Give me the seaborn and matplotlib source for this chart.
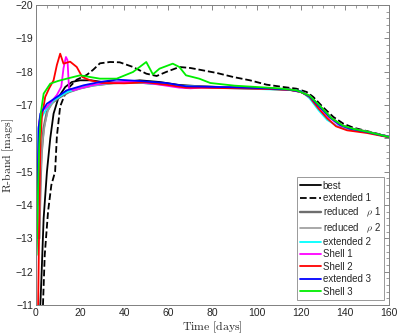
import matplotlib
matplotlib.use("Agg")
import pandas as pd
import seaborn as sns
from matplotlib import pyplot as plt
from matplotlib.ticker import MultipleLocator

labels = ["best", "extended 1", "reduced   $\\rho$ 1", "reduced   $\\rho$ 2",
          "extended 2", "Shell 1", "Shell 2", "extended 3", "Shell 3"]

best_t = [2, 2.5, 3.5, 5, 6.5, 8, 10.3, 13.3, 16.3, 20, 25, 30, 40, 47, 56, 65, 75,
          90, 105, 115, 120, 124, 128.5, 133, 137.8, 142.3, 150, 160]
best_m = [-11, -11.8, -13.6, -15.0, -16.0, -16.74, -17.24, -17.54, -17.69, -17.74, -17.74,
          -17.69, -17.69, -17.74, -17.69, -17.6, -17.56, -17.52, -17.49, -17.46, -17.39,
          -17.26, -16.96, -16.66, -16.41, -16.3, -16.2, -16.04]

ext1_t = [3.2, 4, 5.5, 7, 8.7, 9.5, 11, 14, 18.5, 23, 26, 29, 33.6, 38, 44, 50, 54.7, 59,
          65, 70, 74, 82, 89.4, 97, 104.5, 112, 118, 122.7, 125.7, 130, 134.8, 139.3,
          143.8, 149.8, 160]
ext1_m = [-11, -12.5, -13.8, -14.6, -15.0, -16.06, -16.96, -17.46, -17.76, -17.9, -18.06,
          -18.25, -18.29, -18.28, -18.14, -17.94, -17.87, -17.99, -18.14, -18.11, -18.06,
          -17.96, -17.84, -17.74, -17.61, -17.54, -17.49, -17.39, -17.24, -16.94, -16.64,
          -16.44, -16.32, -16.22, -16.05]

red1_t = [1.5, 2, 2.5, 3.5, 5, 7, 11, 15, 20, 26, 35, 45, 55, 65, 75, 90, 105, 115, 120,
          124, 128.5, 133, 137.8, 142.3, 150, 160]
red1_m = [-13.0, -14.5, -15.5, -16.3, -16.8, -17.05, -17.24, -17.39, -17.5, -17.59, -17.66,
          -17.68, -17.64, -17.57, -17.55, -17.52, -17.49, -17.46, -17.4, -17.27, -16.97,
          -16.66, -16.41, -16.3, -16.2, -16.04]

red2_t = [1.7, 2.2, 3, 4, 5.5, 8, 11, 15, 20, 26, 35, 45, 55, 65, 75, 90, 105, 115, 120,
          124, 128.5, 133, 137.8, 142.3, 150, 160]
red2_m = [-13.5, -15.0, -15.9, -16.4, -16.85, -17.1, -17.27, -17.4, -17.5, -17.58, -17.65,
          -17.67, -17.63, -17.57, -17.55, -17.52, -17.49, -17.46, -17.4, -17.27, -16.97,
          -16.66, -16.41, -16.3, -16.2, -16.04]

ext2_t = [0.6, 1.2, 2, 3.5, 5.5, 8, 14, 23, 36, 45, 52, 60, 68, 75, 90, 105, 115, 120, 124,
          128, 132, 137, 142, 150, 160]
ext2_m = [-13.0, -16.34, -16.55, -16.74, -16.95, -17.14, -17.39, -17.56, -17.69, -17.68,
          -17.64, -17.6, -17.56, -17.54, -17.5, -17.47, -17.45, -17.42, -17.2, -16.85,
          -16.55, -16.35, -16.27, -16.18, -16.04]

sh1_t = [0.8, 1.5, 2.5, 5, 7, 9.5, 11.5, 12.5, 13.6, 14.3, 15, 17, 20, 26, 35, 45, 55, 65,
         70, 75, 90, 105, 115, 120, 124, 128.5, 133, 137.8, 142.3, 150, 160]
sh1_m = [-14.0, -16.5, -16.8, -16.94, -17.1, -17.3, -17.55, -18.1, -18.44, -18.35, -17.5,
         -17.44, -17.5, -17.6, -17.68, -17.7, -17.62, -17.52, -17.5, -17.52, -17.52, -17.49,
         -17.46, -17.39, -17.26, -16.94, -16.62, -16.38, -16.28, -16.19, -16.04]

sh2_t = [1, 1.5, 2, 2.7, 4.2, 6, 8, 9.5, 11, 12.5, 14, 15.5, 18.5, 21, 24.6, 30, 40, 50, 60,
         68, 75, 90, 105, 115, 120, 124, 128, 132, 136, 141, 150, 160]
sh2_m = [-11, -13.5, -15.8, -16.64, -17.24, -17.5, -17.74, -18.2, -18.54, -18.24, -18.27,
         -18.3, -18.14, -17.84, -17.74, -17.66, -17.65, -17.68, -17.6, -17.52, -17.52, -17.5,
         -17.48, -17.45, -17.4, -17.24, -16.9, -16.6, -16.36, -16.24, -16.16, -16.03]

ext3_t = [0, 0.5, 1.2, 2, 5, 9.5, 14, 21.6, 29, 36.6, 47, 59, 68, 75, 90, 105, 115, 120,
          124, 128.5, 133, 137.8, 142.3, 150, 160]
ext3_m = [-12.2, -13.5, -16.3, -16.74, -17.04, -17.24, -17.44, -17.59, -17.69, -17.76,
          -17.72, -17.66, -17.56, -17.55, -17.53, -17.5, -17.46, -17.4, -17.26, -16.95,
          -16.64, -16.4, -16.29, -16.19, -16.04]

sh3_t = [0.3, 0.8, 1.5, 2.3, 3.5, 6.5, 10, 14, 20, 29, 36.6, 44, 48, 50, 53, 56, 62, 65, 68,
         74, 79, 90, 100, 110, 118, 124, 129, 134, 139, 144, 150, 160]
sh3_m = [-12.5, -14.0, -15.8, -16.8, -17.34, -17.64, -17.72, -17.79, -17.89, -17.79, -17.79,
         -17.99, -18.19, -18.29, -17.92, -18.09, -18.24, -18.14, -17.89, -17.79, -17.66,
         -17.58, -17.54, -17.5, -17.44, -17.28, -16.95, -16.6, -16.38, -16.28, -16.2, -16.04]

times = [best_t, ext1_t, red1_t, red2_t, ext2_t, sh1_t, sh2_t, ext3_t, sh3_t]
mags = [best_m, ext1_m, red1_m, red2_m, ext2_m, sh1_m, sh2_m, ext3_m, sh3_m]
colors = ["black", "black", "#6e6e6e", "#9a9a9a", "cyan", "magenta", "red", "blue", "#00ee00"]
styles = ["-", "--", "-", "-", "-", "-", "-", "-", "-"]
widths = [1.3, 1.3, 1.7, 1.2, 1.3, 1.3, 1.3, 1.3, 1.3]

sns.set_style("white")
plt.rcParams['font.family'] = ['Liberation Sans', 'DejaVu Sans']
plt.rcParams['mathtext.fontset'] = 'cm'

fig = plt.figure(figsize=(3.99, 3.35), dpi=100)
ax = fig.add_axes([0.09, 0.0896, 0.885, 0.8955])

for t, m, lab, c, ls, lw in zip(times, mags, labels, colors, styles, widths):
    df = pd.DataFrame({"Time": t, "Mag": m})
    sns.lineplot(data=df, x="Time", y="Mag", ax=ax, color=c, linestyle=ls,
                 linewidth=lw, label=lab)

ax.set_xlim(0, 160)
ax.set_ylim(-11, -20)
ax.xaxis.set_major_locator(MultipleLocator(20))
ax.xaxis.set_minor_locator(MultipleLocator(5))
ax.yaxis.set_major_locator(MultipleLocator(1))
ax.yaxis.set_minor_locator(MultipleLocator(0.2))
ax.tick_params(which="both", direction="in", top=True, right=True, colors="0.45",
               labelcolor="0.15", labelsize=7.5, pad=2)
ax.tick_params(which="major", length=3.5, width=0.6)
ax.tick_params(which="minor", length=2, width=0.5)
for s in ax.spines.values():
    s.set_color("0.5")
    s.set_linewidth(0.7)

ax.set_xlabel(r"$\mathrm{Time\ [days]}$", fontsize=8.5, labelpad=1)
ax.set_ylabel(r"$\mathrm{R\text{-}band\ [mags]}$", fontsize=8.5)
ax.yaxis.set_label_coords(-0.056, 0.5)

leg = ax.legend(loc="lower right", fontsize=7, frameon=True, fancybox=False,
                handlelength=2.1, handletextpad=0.2, labelspacing=0.25,
                borderpad=0.35, borderaxespad=0.5)
leg.get_frame().set_edgecolor("0.5")
leg.get_frame().set_linewidth(0.7)

fig.savefig("out.png", dpi=100)
